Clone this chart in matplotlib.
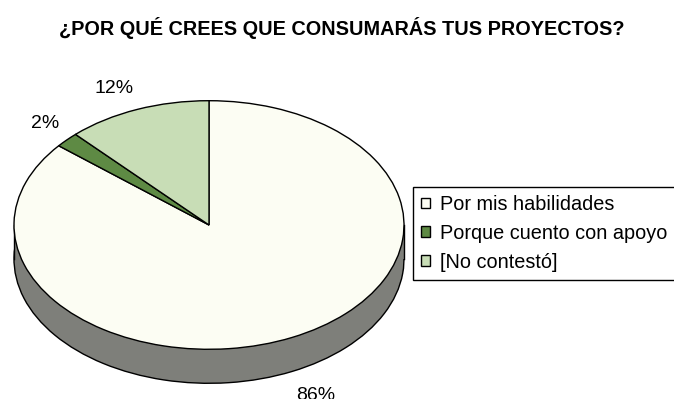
import numpy as np
import matplotlib.pyplot as plt
from matplotlib.patches import Rectangle
from matplotlib.colors import to_rgb

plt.rcParams['font.family'] = ['Liberation Sans', 'DejaVu Sans']

# Survey answers
title = "¿POR QUÉ CREES QUE CONSUMARÁS TUS PROYECTOS?"
categories = ["Por mis habilidades", "Porque cuento con apoyo", "[No contestó]"]
values = [86, 2, 12]
pct_labels = ["86%", "2%", "12%"]
colors = ["#fcfdf3", "#5e8a44", "#c8ddb6"]

# side walls are the face colours at half brightness
side_colors = [tuple(0.5 * c for c in to_rgb(col)) for col in colors]

W, H = 674, 399
cx, cy = 209, 225        # pie centre in pixels
rx, ry = 195, 124.3      # ellipse radii in pixels
depth = 34 / ry          # thickness of the 3d pie in data units

fig = plt.figure(figsize=(W / 100, H / 100), dpi=100)
ax = fig.add_axes([0, 0, 1, 1])

edge = dict(edgecolor="black", linewidth=1)

# bottom face (only the front rim shows)
ax.pie(values, colors=side_colors, startangle=90, counterclock=False,
       center=(0, -depth), wedgeprops=dict(edge, zorder=1))
# wall between bottom and top faces
ax.add_patch(Rectangle((-1, -depth), 2, depth, facecolor=side_colors[0],
                       edgecolor="none", zorder=2))
ax.plot([-1, -1], [-depth, 0], color="black", lw=1, zorder=3)
ax.plot([1, 1], [-depth, 0], color="black", lw=1, zorder=3)

# top face
wedges, _ = ax.pie(values, colors=colors, startangle=90, counterclock=False,
                   wedgeprops=dict(edge, zorder=4))

# percentage labels just outside the rim
for w, lab in zip(wedges, pct_labels):
    ang = np.deg2rad((w.theta1 + w.theta2) / 2)
    c, s = np.cos(ang), np.sin(ang)
    x, y = 1.05 * c, 1.14 * s
    if s < 0:
        y -= depth
    ax.text(x, y, lab, fontsize=14,
            ha="left" if c > 0 else "right",
            va="baseline" if s > 0 else "top", zorder=5)

ax.set_aspect("auto")
ax.set_xlim(-cx / rx, (W - cx) / rx)
ax.set_ylim((cy - H) / ry, cy / ry)
ax.axis("off")

fig.text(342 / W, 1 - 28 / H, title, fontsize=14.3, fontweight="bold",
         ha="center", va="center")

leg = fig.legend(wedges, categories, loc="upper left",
                 bbox_to_anchor=(413 / W, 1 - 187 / H),
                 fontsize=14.3, frameon=True, fancybox=False, framealpha=1,
                 handlelength=0.45, handleheight=0.45, handletextpad=0.5,
                 labelspacing=0.5, borderpad=0.4, borderaxespad=0)
leg.get_frame().set_edgecolor("black")
leg.get_frame().set_linewidth(1)

fig.savefig("out.png", dpi=100)
